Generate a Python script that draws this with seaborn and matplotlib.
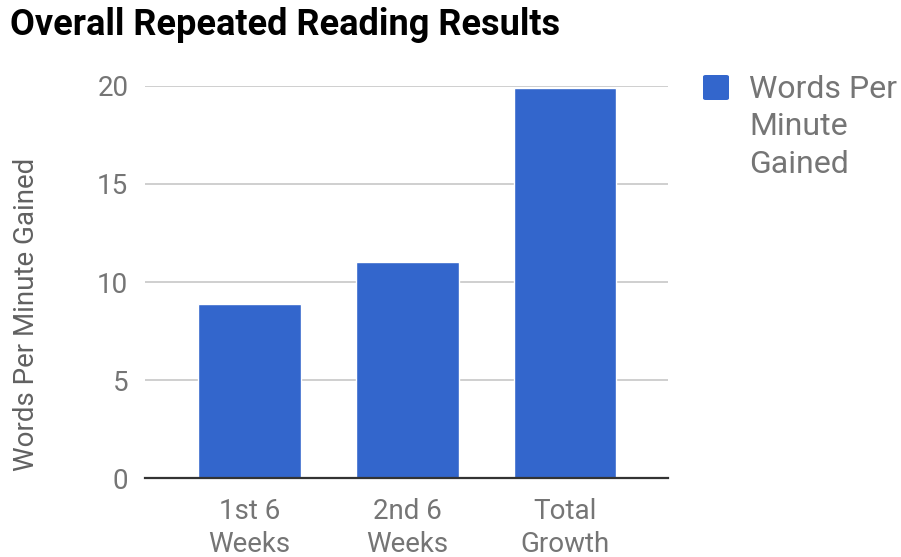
import matplotlib
matplotlib.use("Agg")
import matplotlib.pyplot as plt
import seaborn as sns
import pandas as pd
from matplotlib.patches import FancyBboxPatch

categories = ["1st 6\nWeeks", "2nd 6\nWeeks", "Total\nGrowth"]
wpm_gained = [8.9, 11.0, 19.9]
y_ticks = [0, 5, 10, 15, 20]
series_name = "Words Per\nMinute\nGained"

sns.set_theme(style="white")
plt.rcParams["font.family"] = ["Roboto", "DejaVu Sans"]

df = pd.DataFrame({"category": categories, "value": wpm_gained})

fig = plt.figure(figsize=(9.01, 5.57), dpi=100)
ax = fig.add_axes([0.161, 0.1413, 0.580, 0.7047])

bar_color = "#3366cc"
sns.barplot(data=df, x="category", y="value", color=bar_color,
            width=0.652, saturation=1, ax=ax, zorder=3)

ax.set_xlim(-0.66, 2.65)
ax.set_ylim(0, 20)
ax.set_yticks(y_ticks)
ax.set_yticklabels([str(t) for t in y_ticks])

for s in ["top", "right", "left"]:
    ax.spines[s].set_visible(False)
ax.spines["bottom"].set_color("#333333")
ax.spines["bottom"].set_linewidth(1.6)
ax.spines["bottom"].set_zorder(4)

ax.yaxis.grid(True, color="#cccccc", linewidth=1.3, zorder=0)
ax.set_axisbelow(True)

ax.tick_params(axis="both", length=0, labelsize=20, labelcolor="#757575")
ax.tick_params(axis="y", pad=12)
ax.tick_params(axis="x", pad=14)
for lbl in ax.get_xticklabels():
    lbl.set_linespacing(1.3)

ax.set_xlabel("")
ax.set_ylabel("")
fig.text(27 / 901, 1 - 314 / 557, "Words Per Minute Gained", fontsize=20,
         color="#616161", rotation=90, ha="center", va="center")

fig.text(0.011, 1 - 25 / 557, "Overall Repeated Reading Results", fontsize=26,
         fontweight="bold", color="#000000", ha="left", va="center")

# legend
fig.patches.append(FancyBboxPatch((703 / 901, 1 - 100 / 557), 26 / 901, 25 / 557,
                                  boxstyle="round,pad=0,rounding_size=0.003",
                                  transform=fig.transFigure, facecolor=bar_color,
                                  edgecolor="none"))
fig.text(749 / 901, 1 - 75 / 557, series_name, fontsize=23, color="#757575",
         ha="left", va="top", linespacing=1.36)

fig.savefig("out.png", dpi=100, facecolor="white")
